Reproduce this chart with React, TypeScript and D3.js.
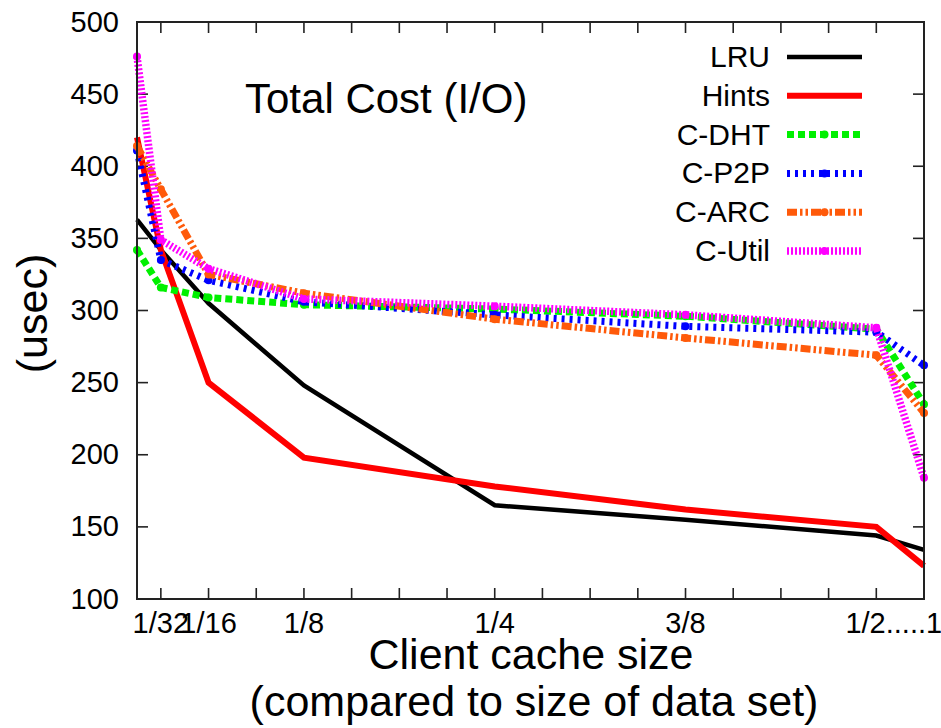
import React from "react";
import * as d3 from "d3";

// Client cache size as a fraction of the data set. The axis is broken after 1/2:
// the last slot (drawn one step past 1/2) stands for a cache as large as the data set.
const cacheSizes = [1 / 64, 1 / 32, 1 / 16, 1 / 8, 1 / 4, 3 / 8, 1 / 2, 17 / 32];

const lru = [363, 342, 305, 248, 165, 155, 144, 134];
const hints = [420, 342, 250, 198, 178, 162, 150, 123];
const cDht = [342, 316, 309, 304, 301, 296, 287, 235];
const cP2p = [411, 335, 321, 306, 297, 289, 285, 262];
const cArc = [414, 384, 325, 312, 294, 281, 269, 229];
const cUtil = [476, 349, 329, 308, 303, 297, 288, 184];

const seriesNames = ["LRU", "Hints", "C-DHT", "C-P2P", "C-ARC", "C-Util"];

const xTickValues = [1 / 32, 1 / 16, 1 / 8, 1 / 4, 3 / 8];
const xTickLabels = ["1/32", "1/16", "1/8", "1/4", "3/8"];
// the broken end of the axis is labelled as one run of text: "1/2.....1"
const xBreakLabelLeft = "1/2.....";
const xBreakLabelRight = "1";
const yTickValues = [100, 150, 200, 250, 300, 350, 400, 450, 500];

const title = "Total Cost (I/O)";
const yTitle = "(usec)";
const xTitle1 = "Client cache size";
const xTitle2 = "(compared to size of data set)";

const W = 941;
const H = 728;
const plot = { left: 137, right: 924, top: 22, bottom: 599 };
const FONT = "'Liberation Sans', Arial, Helvetica, sans-serif";

type Style = {
  color: string;
  width: number;
  dash?: string;
  marker?: boolean;
};

const styles: Style[] = [
  { color: "#000000", width: 4.5 },
  { color: "#ff0000", width: 6 },
  { color: "#00f000", width: 7, dash: "7 4", marker: true },
  { color: "#0000ff", width: 7, dash: "3 5", marker: true },
  { color: "#ff5a0a", width: 7, dash: "10 3 2.5 3 2.5 3", marker: true },
  { color: "#ff00ff", width: 7.5, dash: "2 2", marker: true },
];

export default function App() {
  const allSeries = [lru, hints, cDht, cP2p, cArc, cUtil];

  const x = d3.scaleLinear().domain([1 / 64, 17 / 32]).range([plot.left, plot.right]);
  const y = d3.scaleLinear().domain([100, 500]).range([plot.bottom, plot.top]);

  const line = d3
    .line<number>()
    .x((_, i) => x(cacheSizes[i]))
    .y((d) => y(d));

  // x ticks every 1/32 up to 1/2
  const xTicks = d3.range(1, 17).map((k) => k / 32);
  const tickLen = 11;

  const legendX1 = 787;
  const legendX2 = 862;
  const legendTextX = 770;
  const legendTop = 57;
  const legendStep = 38.8;

  const xEnd = x(17 / 32);

  return (
    <div style={{ position: "absolute", left: 0, top: 0 }}>
      <svg width={W} height={H} viewBox={`0 0 ${W} ${H}`} style={{ display: "block", background: "#fff" }}>
        <rect x={0} y={0} width={W} height={H} fill="#fff" />

        {/* tick marks, mirrored on all sides */}
        <g stroke="#222" strokeWidth={1.6}>
          {xTicks.map((t) => (
            <g key={`xt${t}`}>
              <line x1={x(t)} x2={x(t)} y1={plot.bottom} y2={plot.bottom - tickLen} />
              <line x1={x(t)} x2={x(t)} y1={plot.top} y2={plot.top + tickLen} />
            </g>
          ))}
          {yTickValues.slice(1, -1).map((v) => (
            <g key={`yt${v}`}>
              <line x1={plot.left} x2={plot.left + tickLen} y1={y(v)} y2={y(v)} />
              <line x1={plot.right} x2={plot.right - tickLen} y1={y(v)} y2={y(v)} />
            </g>
          ))}
        </g>

        {/* tick labels */}
        <g fontFamily={FONT} fontSize={29} fill="#000">
          {yTickValues.map((v) => (
            <text key={`yl${v}`} x={119} y={y(v)} dy="0.33em" textAnchor="end">
              {v}
            </text>
          ))}
          {xTickValues.map((v, i) => (
            <text key={`xl${i}`} x={x(v)} y={633} textAnchor="middle">
              {xTickLabels[i]}
            </text>
          ))}
          <text x={xEnd + 2} y={633} textAnchor="end">
            {xBreakLabelLeft}
          </text>
          <text x={xEnd + 2} y={633} textAnchor="start">
            {xBreakLabelRight}
          </text>
        </g>

        {/* data lines */}
        {allSeries.map((s, i) => {
          const st = styles[i];
          return (
            <g key={seriesNames[i]}>
              <path
                d={line(s) || ""}
                fill="none"
                stroke={st.color}
                strokeWidth={st.width}
                strokeDasharray={st.dash}
                strokeLinejoin="miter"
              />
              {st.marker &&
                s.map((v, j) => (
                  <circle key={j} cx={x(cacheSizes[j])} cy={y(v)} r={4} fill={st.color} />
                ))}
            </g>
          );
        })}

        {/* frame */}
        <rect
          x={plot.left}
          y={plot.top}
          width={plot.right - plot.left}
          height={plot.bottom - plot.top}
          fill="none"
          stroke="#222"
          strokeWidth={2}
        />

        {/* in-plot title */}
        <text x={245} y={113} fontFamily={FONT} fontSize={42} fill="#000">
          {title}
        </text>

        {/* legend */}
        <g fontFamily={FONT} fontSize={30}>
          {seriesNames.map((name, i) => {
            const st = styles[i];
            const ly = legendTop + i * legendStep;
            return (
              <g key={`lg${name}`}>
                <text x={legendTextX} y={ly} dy="0.33em" textAnchor="end" fill="#000">
                  {name}
                </text>
                <line
                  x1={legendX1}
                  x2={legendX2}
                  y1={ly}
                  y2={ly}
                  stroke={st.color}
                  strokeWidth={st.width}
                  strokeDasharray={st.dash}
                />
                {st.marker && <circle cx={(legendX1 + legendX2) / 2} cy={ly} r={4} fill={st.color} />}
              </g>
            );
          })}
        </g>

        {/* axis titles */}
        <text
          transform={`translate(33, ${(plot.top + plot.bottom) / 2 + 3}) rotate(-90)`}
          textAnchor="middle"
          dy="0.33em"
          fontFamily={FONT}
          fontSize={43}
          fill="#000"
        >
          {yTitle}
        </text>
        <text x={531} y={669} textAnchor="middle" fontFamily={FONT} fontSize={43} fill="#000">
          {xTitle1}
        </text>
        <text x={534} y={716} textAnchor="middle" fontFamily={FONT} fontSize={43} fill="#000">
          {xTitle2}
        </text>
      </svg>
    </div>
  );
}
